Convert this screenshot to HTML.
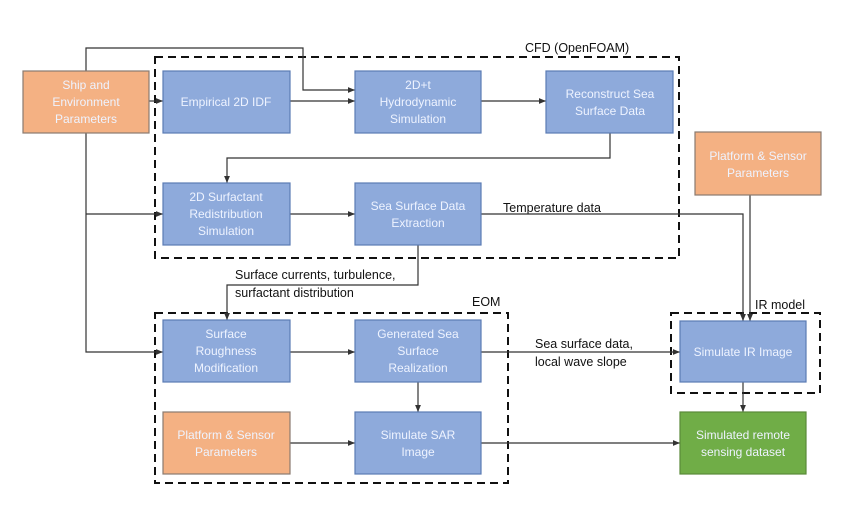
<!DOCTYPE html>
<html><head><meta charset="utf-8"><style>
body{margin:0;background:#fff;}
svg{display:block;font-family:"Liberation Sans",sans-serif;}
.b{fill:#8eaadb;stroke:#5b7bb3;stroke-width:1.2}
.o{fill:#f4b183;stroke:#8a7a70;stroke-width:1.2}
.g{fill:#70ad47;stroke:#5a8a3a;stroke-width:1.2}
.t{fill:#eef3ff;font-size:12px;text-anchor:middle}
.l{fill:none;stroke:#333;stroke-width:1.2}
.d{fill:none;stroke:#111;stroke-width:2;stroke-dasharray:8,5}
.k{fill:#111;font-size:12.5px}
</style></head><body>
<svg width="862" height="510" viewBox="0 0 862 510">
<defs><marker id="a" markerWidth="6" markerHeight="6" refX="6" refY="3" orient="auto"><path d="M0,0.5L6,3L0,5.5z" fill="#333"/></marker></defs>
<rect class="d" x="155" y="57" width="524" height="201"/>
<rect class="d" x="155" y="313" width="353" height="170"/>
<rect class="d" x="671" y="313" width="149" height="80"/>
<text class="k" x="525" y="52">CFD (OpenFOAM)</text>
<text class="k" x="472" y="306">EOM</text>
<text class="k" x="755" y="309">IR model</text>
<text class="k" x="503" y="212">Temperature data</text>
<text class="k" x="235" y="279">Surface currents, turbulence,</text>
<text class="k" x="235" y="297">surfactant distribution</text>
<text class="k" x="535" y="348">Sea surface data,</text>
<text class="k" x="535" y="366">local wave slope</text>
<g class="l">
<path d="M86,71V48H303V90H355" marker-end="url(#a)"/>
<path d="M149,101H163" marker-end="url(#a)"/>
<path d="M290,101H355" marker-end="url(#a)"/>
<path d="M481,101H546" marker-end="url(#a)"/>
<path d="M610,133V158H227V183" marker-end="url(#a)"/>
<path d="M86,133V352H163" marker-end="url(#a)"/>
<path d="M86,214H163" marker-end="url(#a)"/>
<path d="M290,214H355" marker-end="url(#a)"/>
<path d="M481,214H743V321" marker-end="url(#a)"/>
<path d="M750,195V321" marker-end="url(#a)"/>
<path d="M418,245V285H227V320" marker-end="url(#a)"/>
<path d="M290,352H355" marker-end="url(#a)"/>
<path d="M481,352H680" marker-end="url(#a)"/>
<path d="M418,382V412" marker-end="url(#a)"/>
<path d="M290,443H355" marker-end="url(#a)"/>
<path d="M481,443H680" marker-end="url(#a)"/>
<path d="M743,382V412" marker-end="url(#a)"/>
</g>
<rect class="o" x="23" y="71" width="126" height="62"/>
<text class="t" x="86" y="89">Ship and</text><text class="t" x="86" y="106">Environment</text><text class="t" x="86" y="123">Parameters</text>
<rect class="b" x="163" y="71" width="127" height="62"/>
<text class="t" x="226" y="106">Empirical 2D IDF</text>
<rect class="b" x="355" y="71" width="126" height="62"/>
<text class="t" x="418" y="89">2D+t</text><text class="t" x="418" y="106">Hydrodynamic</text><text class="t" x="418" y="123">Simulation</text>
<rect class="b" x="546" y="71" width="127" height="62"/>
<text class="t" x="610" y="98">Reconstruct Sea</text><text class="t" x="610" y="115">Surface Data</text>
<rect class="o" x="695" y="132" width="126" height="63"/>
<text class="t" x="758" y="160">Platform &amp; Sensor</text><text class="t" x="758" y="177">Parameters</text>
<rect class="b" x="163" y="183" width="127" height="62"/>
<text class="t" x="226" y="201">2D Surfactant</text><text class="t" x="226" y="218">Redistribution</text><text class="t" x="226" y="235">Simulation</text>
<rect class="b" x="355" y="183" width="126" height="62"/>
<text class="t" x="418" y="210">Sea Surface Data</text><text class="t" x="418" y="227">Extraction</text>
<rect class="b" x="163" y="320" width="127" height="62"/>
<text class="t" x="226" y="338">Surface</text><text class="t" x="226" y="355">Roughness</text><text class="t" x="226" y="372">Modification</text>
<rect class="b" x="355" y="320" width="126" height="62"/>
<text class="t" x="418" y="338">Generated Sea</text><text class="t" x="418" y="355">Surface</text><text class="t" x="418" y="372">Realization</text>
<rect class="b" x="680" y="321" width="126" height="61"/>
<text class="t" x="743" y="356">Simulate IR Image</text>
<rect class="o" x="163" y="412" width="127" height="62"/>
<text class="t" x="226" y="439">Platform &amp; Sensor</text><text class="t" x="226" y="456">Parameters</text>
<rect class="b" x="355" y="412" width="126" height="62"/>
<text class="t" x="418" y="439">Simulate SAR</text><text class="t" x="418" y="456">Image</text>
<rect class="g" x="680" y="412" width="126" height="62"/>
<text class="t" x="743" y="439">Simulated remote</text><text class="t" x="743" y="456">sensing dataset</text>
</svg>
</body></html>
